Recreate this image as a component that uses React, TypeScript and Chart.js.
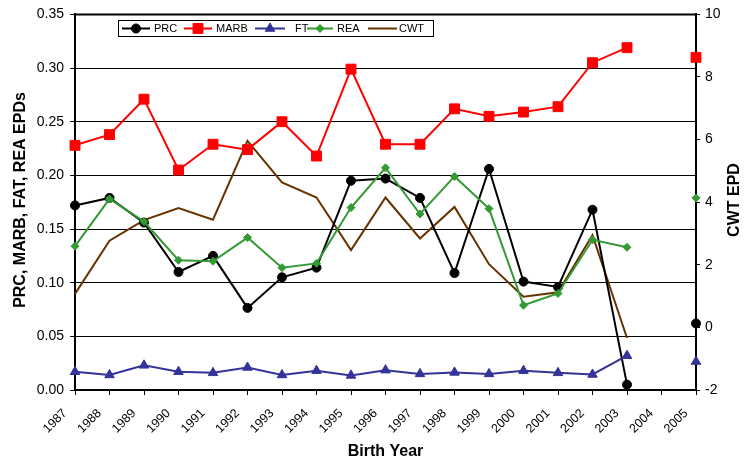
import React, { useEffect, useRef } from 'react';
import { Chart, registerables } from 'chart.js';
Chart.register(...registerables);

const years = ['1987', '1988', '1989', '1990', '1991', '1992', '1993', '1994', '1995', '1996', '1997', '1998', '1999', '2000', '2001', '2002', '2003', '2004', '2005'];
const prc = [0.172, 0.179, 0.156, 0.110, 0.125, 0.0765, 0.105, 0.114, 0.195, 0.197, 0.179, 0.109, 0.206, 0.101, 0.096, 0.168, 0.005, null, 0.062];
const marb = [0.228, 0.238, 0.271, 0.205, 0.229, 0.224, 0.250, 0.218, 0.299, 0.229, 0.229, 0.262, 0.255, 0.259, 0.264, 0.305, 0.319, null, 0.310];
const ft = [0.017, 0.014, 0.023, 0.017, 0.016, 0.021, 0.014, 0.018, 0.0136, 0.0185, 0.015, 0.0164, 0.015, 0.018, 0.016, 0.0145, 0.032, null, 0.0265];
const rea = [0.134, 0.178, 0.157, 0.121, 0.120, 0.142, 0.114, 0.118, 0.170, 0.207, 0.164, 0.199, 0.169, 0.079, 0.090, 0.140, 0.133, null, 0.179];
const cwt = [1.07, 2.77, 3.43, 3.81, 3.44, 5.96, 4.63, 4.15, 2.47, 4.15, 2.84, 3.85, 2.02, 0.98, 1.12, 2.95, -0.34, null, null];

const leftTitle = 'PRC, MARB, FAT, REA EPDs';
const rightTitle = 'CWT EPD';
const bottomTitle = 'Birth Year';

const FONT = '"Liberation Sans", Arial, Helvetica, sans-serif';

type LegendItem = { label: string; color: string; style: string | null; radius: number };
const legendItems: LegendItem[] = [
  { label: 'PRC', color: '#000000', style: 'circle', radius: 4.5 },
  { label: 'MARB', color: '#ff0000', style: 'rect', radius: 7 },
  { label: 'FT', color: '#333399', style: 'triangle', radius: 5.5 },
  { label: 'REA', color: '#339933', style: 'rectRot', radius: 4 },
  { label: 'CWT', color: '#663300', style: null, radius: 0 },
];

function drawMarker(ctx: CanvasRenderingContext2D, style: string, r: number, x: number, y: number) {
  ctx.beginPath();
  if (style === 'circle') {
    ctx.arc(x, y, r, 0, Math.PI * 2);
  } else if (style === 'rect') {
    const s = Math.SQRT1_2 * r;
    ctx.rect(x - s, y - s, 2 * s, 2 * s);
  } else if (style === 'triangle') {
    ctx.moveTo(x, y - r);
    ctx.lineTo(x + r * 0.866, y + r / 2);
    ctx.lineTo(x - r * 0.866, y + r / 2);
    ctx.closePath();
  } else if (style === 'rectRot') {
    ctx.moveTo(x - r, y);
    ctx.lineTo(x, y - r);
    ctx.lineTo(x + r, y);
    ctx.lineTo(x, y + r);
    ctx.closePath();
  }
  ctx.fill();
  ctx.stroke();
}

const decorPlugin = {
  id: 'decor',
  afterDraw(chart: any) {
    const ctx = chart.ctx;
    const a = chart.chartArea;
    ctx.save();
    // top border
    ctx.strokeStyle = '#000';
    ctx.lineWidth = 2;
    ctx.beginPath();
    ctx.moveTo(a.left - 1, a.top);
    ctx.lineTo(a.right + 1, a.top);
    ctx.stroke();

    // axis titles
    ctx.fillStyle = '#000';
    ctx.font = 'bold 16px ' + FONT;
    ctx.textAlign = 'center';
    ctx.textBaseline = 'middle';
    ctx.fillText(bottomTitle, (a.left + a.right) / 2, 452);
    ctx.save();
    ctx.translate(21, 200);
    ctx.rotate(-Math.PI / 2);
    ctx.fillText(leftTitle, 0, 0);
    ctx.restore();
    ctx.save();
    ctx.translate(735, 200);
    ctx.rotate(-Math.PI / 2);
    ctx.fillText(rightTitle, 0, 0);
    ctx.restore();

    // legend
    const bx = 118, by = 20, bw = 315, bh = 16;
    ctx.fillStyle = '#fff';
    ctx.fillRect(bx, by, bw, bh);
    ctx.strokeStyle = '#000';
    ctx.lineWidth = 1;
    ctx.strokeRect(bx + 0.5, by + 0.5, bw, bh);
    const lineStarts = [122, 184, 255, 307, 368];
    const lineEnds = [150, 212, 285, 333, 397];
    const textStarts = [154, 216, 295, 337, 399];
    const cy = by + bh / 2 + 0.5;
    ctx.font = '11px ' + FONT;
    ctx.textAlign = 'left';
    ctx.textBaseline = 'middle';
    legendItems.forEach((it, i) => {
      ctx.strokeStyle = it.color;
      ctx.lineWidth = 2;
      ctx.beginPath();
      ctx.moveTo(lineStarts[i], cy);
      ctx.lineTo(lineEnds[i], cy);
      ctx.stroke();
      if (it.style) {
        ctx.fillStyle = it.color;
        ctx.strokeStyle = it.color;
        ctx.lineWidth = 1;
        drawMarker(ctx, it.style, it.radius, (lineStarts[i] + lineEnds[i]) / 2, cy);
      }
      ctx.fillStyle = '#000';
      ctx.fillText(it.label, textStarts[i], cy + 0.5);
    });
    ctx.restore();
  },
};

export default function App() {
  const ref = useRef<HTMLCanvasElement | null>(null);
  useEffect(() => {
    document.body.style.margin = '0';
    const canvas = ref.current;
    if (!canvas) return;
    const mk = (label: string, data: (number | null)[], color: string, style: any, radius: number, axis: string, order: number) => ({
      label,
      data,
      borderColor: color,
      backgroundColor: color,
      pointBackgroundColor: color,
      pointBorderColor: color,
      pointStyle: style,
      pointRadius: radius,
      pointBorderWidth: 1,
      borderWidth: 2,
      tension: 0,
      spanGaps: false,
      yAxisID: axis,
      clip: false,
      order,
    });
    const chart = new Chart(canvas, {
      type: 'line',
      data: {
        labels: years,
        datasets: [
          mk('PRC', prc, '#000000', 'circle', 4.5, 'y', 5),
          mk('MARB', marb, '#ff0000', 'rect', 7, 'y', 4),
          mk('FT', ft, '#333399', 'triangle', 5.5, 'y', 3),
          mk('REA', rea, '#339933', 'rectRot', 4, 'y', 2),
          mk('CWT', cwt, '#663300', false, 0, 'y1', 6),
        ] as any,
      },
      options: {
        responsive: false,
        animation: false,
        events: [],
        layout: { padding: { top: 12, left: 0, right: 0, bottom: 0 } },
        plugins: { legend: { display: false }, tooltip: { enabled: false } },
        scales: {
          x: {
            type: 'category',
            offset: false,
            grid: { drawOnChartArea: false, drawTicks: true, tickLength: 5, color: '#000', lineWidth: 1 },
            border: { color: '#000', width: 2 },
            ticks: {
              color: '#000',
              font: { family: FONT, size: 12.5 },
              maxRotation: 45,
              minRotation: 45,
              autoSkip: false,
              padding: 11,
              labelOffset: -10,
            },
            afterFit(scale: any) { scale.height = 71; },
          },
          y: {
            position: 'left',
            min: 0,
            max: 0.35,
            grid: { drawTicks: true, tickLength: 5, color: '#000', lineWidth: 1 },
            border: { color: '#000', width: 2 },
            ticks: {
              stepSize: 0.05,
              color: '#000',
              font: { family: FONT, size: 14 },
              padding: 6,
              callback: (v: any) => Number(v).toFixed(2),
            },
            afterFit(scale: any) { scale.width = 75; },
          },
          y1: {
            position: 'right',
            min: -2,
            max: 10,
            grid: { drawOnChartArea: false, drawTicks: true, tickLength: 4, color: '#000', lineWidth: 1 },
            border: { color: '#000', width: 2 },
            ticks: {
              stepSize: 2,
              color: '#000',
              font: { family: FONT, size: 14 },
              padding: 5,
            },
            afterFit(scale: any) { scale.width = 53; },
          },
        },
      } as any,
      plugins: [decorPlugin],
    });
    return () => chart.destroy();
  }, []);
  return (
    <div style={{ width: 749, height: 461, background: '#fff' }}>
      <canvas ref={ref} width={749} height={461} style={{ display: 'block' }} />
    </div>
  );
}
